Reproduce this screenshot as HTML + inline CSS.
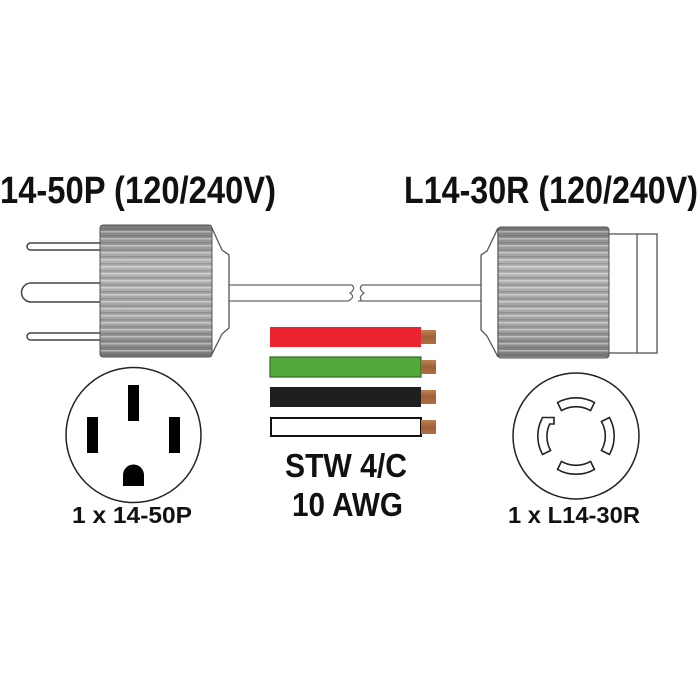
<!DOCTYPE html>
<html><head><meta charset="utf-8"><style>html,body{margin:0;padding:0;background:#fff}svg{display:block}</style></head>
<body>
<svg width="700" height="700" viewBox="0 0 700 700" xmlns="http://www.w3.org/2000/svg">
<defs>
<linearGradient id="body" x1="0" y1="0" x2="0" y2="1">
<stop offset="0" stop-color="#7a7a7a"/><stop offset="0.08" stop-color="#8e8e8e"/><stop offset="0.3" stop-color="#b5b5b5"/><stop offset="0.5" stop-color="#aaaaaa"/><stop offset="0.75" stop-color="#a5a5a5"/><stop offset="0.92" stop-color="#8a8a8a"/><stop offset="1" stop-color="#777"/>
</linearGradient>
<pattern id="rib" width="10" height="7" patternUnits="userSpaceOnUse">
<rect y="0" width="10" height="1.5" fill="#ffffff" opacity="0.4"/><rect y="4" width="10" height="1.5" fill="#555" opacity="0.3"/>
</pattern>
<linearGradient id="cu" x1="0" y1="0" x2="0" y2="1"><stop offset="0" stop-color="#c08050"/><stop offset="0.5" stop-color="#a0603a"/><stop offset="1" stop-color="#b07040"/></linearGradient>
</defs>
<g font-family="Liberation Sans, sans-serif" font-weight="bold" fill="#111">
<text x="0" y="203" font-size="38" textLength="276" lengthAdjust="spacingAndGlyphs">14-50P (120/240V)</text>
<text x="404" y="203" font-size="38" textLength="294" lengthAdjust="spacingAndGlyphs">L14-30R (120/240V)</text>
<text x="285" y="477" font-size="33" textLength="122" lengthAdjust="spacingAndGlyphs">STW 4/C</text>
<text x="292" y="516" font-size="33" textLength="111" lengthAdjust="spacingAndGlyphs">10 AWG</text>
<text x="72" y="523" font-size="23" textLength="120" lengthAdjust="spacingAndGlyphs">1 x 14-50P</text>
<text x="508" y="523" font-size="23" textLength="132" lengthAdjust="spacingAndGlyphs">1 x L14-30R</text>
</g>
<g fill="#fff" stroke="#444" stroke-width="1.5">
<rect x="27" y="243" width="78" height="7" rx="3.5"/>
<rect x="27" y="333" width="78" height="7" rx="3.5"/>
<path d="M102 283 H31 A9.5 9.5 0 0 0 31 302 H102"/>
</g>
<g fill="#fff" stroke="#666" stroke-width="1.3">
<path d="M226 285 H352 M226 301 H348 M362 285 H484 M358 301 H484"/>
<path d="M352 285 q4 4 -2 8 q6 4 -2 8 M362 285 q-4 4 2 8 q-6 4 -2 8" fill="none"/>
</g>
<polygon points="211,226 222,250 229,255 229,328 222,334 211,356" fill="#fff" stroke="#555" stroke-width="1.3"/>
<rect x="100" y="225" width="112" height="132" rx="3" fill="url(#body)"/>
<rect x="100" y="225" width="112" height="132" rx="3" fill="url(#rib)"/>
<rect x="100" y="225" width="112" height="132" rx="3" fill="none" stroke="#555" stroke-width="1"/>
<polygon points="498,228 487,251 481,255 481,330 487,336 498,357" fill="#fff" stroke="#555" stroke-width="1.3"/>
<rect x="608" y="234" width="49" height="119" fill="#fff" stroke="#555" stroke-width="1.3"/>
<line x1="637" y1="234" x2="637" y2="353" stroke="#555" stroke-width="1.3"/>
<rect x="498" y="227" width="111" height="131" rx="3" fill="url(#body)"/>
<rect x="498" y="227" width="111" height="131" rx="3" fill="url(#rib)"/>
<rect x="498" y="227" width="111" height="131" rx="3" fill="none" stroke="#555" stroke-width="1"/>
<rect x="270" y="327" width="151" height="20" fill="#ec2330"/>
<rect x="270" y="357" width="151" height="20" fill="#55a83a" stroke="#2e6a20" stroke-width="1.2"/>
<rect x="270" y="387" width="151" height="20" fill="#1f1f1f"/>
<rect x="271" y="418" width="150" height="18" fill="#fff" stroke="#111" stroke-width="2"/>
<rect x="421" y="330" width="15" height="14" fill="url(#cu)"/>
<rect x="421" y="360" width="15" height="14" fill="url(#cu)"/>
<rect x="421" y="390" width="15" height="14" fill="url(#cu)"/>
<rect x="421" y="420" width="15" height="14" fill="url(#cu)"/>
<circle cx="133.5" cy="435" r="67.5" fill="#fff" stroke="#222" stroke-width="1.5"/>
<g fill="#000">
<rect x="128" y="385" width="11" height="36"/>
<rect x="87" y="417" width="11" height="36"/>
<rect x="169" y="417" width="11" height="36"/>
<path d="M123 486 V475 A10.5 10.5 0 0 1 144 475 V486 Z"/>
</g>
<circle cx="576" cy="436" r="63" fill="#fff" stroke="#222" stroke-width="1.5"/>
<g fill="#fff" stroke="#222" stroke-width="1.6" transform="translate(576 436)">
<path d="M-18.5 -33.4 A38 38 0 0 1 18.5 -33.4 L14.5 -25.4 A29 29 0 0 0 -14.5 -25.4 Z"/>
<path d="M18.5 33.4 A38 38 0 0 1 -18.5 33.4 L-14.5 25.4 A29 29 0 0 0 14.5 25.4 Z"/>
<path d="M33.4 -18.5 A38 38 0 0 1 33.4 18.5 L25.4 14.5 A29 29 0 0 0 25.4 -14.5 Z"/>
<path d="M-33.4 18.5 A38 38 0 0 1 -33.4 -18.5 L-22 -18.5 L-22 -12 L-26.3 -12 A29 29 0 0 0 -25.4 14.5 Z"/>
</g>
</svg>
</body></html>
